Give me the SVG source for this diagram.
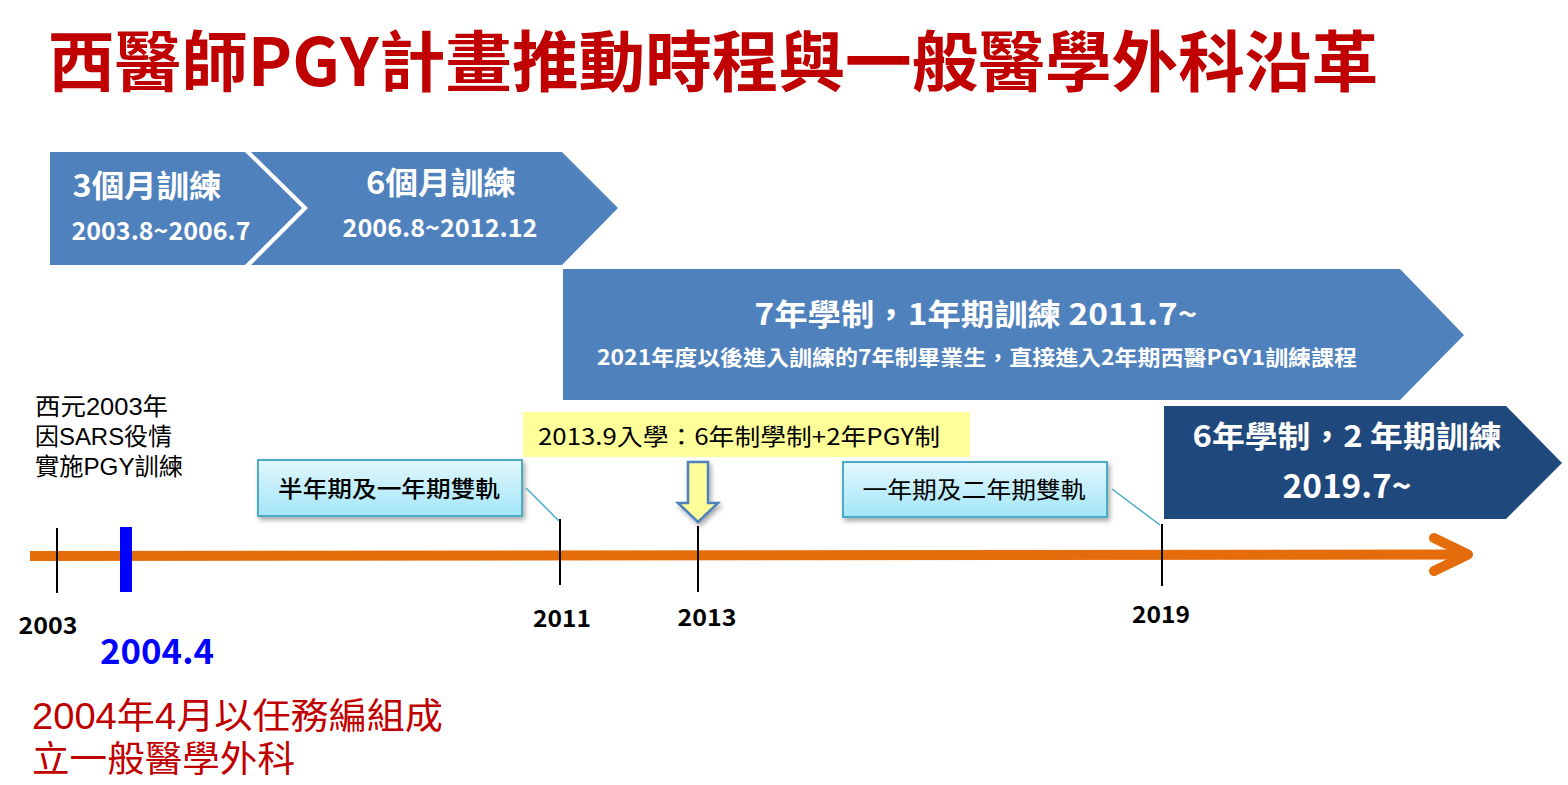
<svg xmlns="http://www.w3.org/2000/svg" width="1568" height="785" viewBox="0 0 1568 785">
<defs>
<style>
text{font-family:"Noto Sans CJK TC","Noto Sans CJK SC",sans-serif}
.ml{font-family:"Liberation Sans","Noto Sans CJK TC","Noto Sans CJK SC",sans-serif}
.w{fill:#ffffff;font-weight:700;text-anchor:middle}
.blk{fill:#000000}
.yr{fill:#000000;font-weight:700;font-size:23px;text-anchor:middle}
.tick{stroke:#000000;stroke-width:2;fill:none}
.call{stroke:#4bacc6;stroke-width:1.5;fill:none}
.cyan{fill:url(#cg);stroke:#4bacc6;stroke-width:2}
</style>
<linearGradient id="cg" x1="0" y1="0" x2="0" y2="1">
<stop offset="0" stop-color="#e2f7fc"/>
<stop offset="1" stop-color="#a3e6f8"/>
</linearGradient>
<filter id="sh" x="-10%" y="-20%" width="130%" height="150%">
<feGaussianBlur in="SourceAlpha" stdDeviation="2.5"/>
<feOffset dx="2" dy="3" result="b"/>
<feComponentTransfer><feFuncA type="linear" slope="0.35"/></feComponentTransfer>
<feMerge><feMergeNode/><feMergeNode in="SourceGraphic"/></feMerge>
</filter>
</defs>
<rect width="1568" height="785" fill="#ffffff"/>

<g id="title">
<text x="48" y="86" font-size="66" font-weight="700" fill="#c00000" textLength="1330" lengthAdjust="spacingAndGlyphs">西醫師PGY計畫推動時程與一般醫學外科沿革</text>
</g>

<g id="node-3m">
<polygon points="50,152 245,152 302,208 245,265 50,265" fill="#4f81bd"/>
<text class="w" x="147" y="197" font-size="31" textLength="149" lengthAdjust="spacingAndGlyphs">3個月訓練</text>
<text class="w" x="161" y="240" font-size="25" textLength="179" lengthAdjust="spacingAndGlyphs">2003.8~2006.7</text>
</g>

<g id="node-6m">
<polygon points="251,152 562,152 618,208 562,265 251,265 308,208" fill="#4f81bd"/>
<text class="w" x="441" y="194" font-size="31" textLength="150" lengthAdjust="spacingAndGlyphs">6個月訓練</text>
<text class="w" x="440" y="237" font-size="25" textLength="195" lengthAdjust="spacingAndGlyphs">2006.8~2012.12</text>
</g>

<g id="node-7y">
<polygon points="563,269 1400,269 1464,335 1400,400 563,400" fill="#4f81bd"/>
<text class="w" x="976" y="325" font-size="30" textLength="443" lengthAdjust="spacingAndGlyphs">7年學制，1年期訓練 2011.7~</text>
<text class="w" x="977" y="365" font-size="21" textLength="760" lengthAdjust="spacingAndGlyphs">2021年度以後進入訓練的7年制畢業生，直接進入2年期西醫PGY1訓練課程</text>
</g>

<g id="node-6y">
<polygon points="1164,406 1506,406 1562,463 1506,519 1164,519" fill="#1f497d"/>
<text class="w" x="1347" y="447" font-size="30" textLength="309" lengthAdjust="spacingAndGlyphs">6年學制，2 年期訓練</text>
<text class="w" x="1347" y="498" font-size="33" textLength="129" lengthAdjust="spacingAndGlyphs">2019.7~</text>
</g>

<g id="node-2013note">
<rect x="523" y="412" width="447" height="45" fill="#ffff99"/>
<text class="blk" x="538" y="445" font-size="23" textLength="402" lengthAdjust="spacingAndGlyphs">2013.9入學：6年制學制+2年PGY制</text>
</g>

<g id="node-downarrow">
<polygon points="688,462 708,462 708,503 718,503 698,522 678,503 688,503" fill="#ffff99" stroke="#4f81bd" stroke-width="2.5" stroke-linejoin="miter" filter="url(#sh)"/>
</g>

<g id="node-dual1">
<rect class="cyan" x="258" y="460" width="264" height="56" filter="url(#sh)"/>
<text class="blk" x="389" y="497" font-size="23" font-weight="500" text-anchor="middle" textLength="222" lengthAdjust="spacingAndGlyphs">半年期及一年期雙軌</text>
</g>

<g id="node-dual2">
<rect class="cyan" x="843" y="462" width="264" height="55" filter="url(#sh)"/>
<text class="blk" x="974" y="498" font-size="23" font-weight="400" text-anchor="middle" textLength="223" lengthAdjust="spacingAndGlyphs" fill="#222222">一年期及二年期雙軌</text>
</g>

<g id="note-sars">
<text class="blk ml" x="35" y="415" font-size="24" textLength="133" lengthAdjust="spacingAndGlyphs">西元2003年</text>
<text class="blk ml" x="35" y="445" font-size="24" textLength="137" lengthAdjust="spacingAndGlyphs">因SARS役情</text>
<text class="blk ml" x="35" y="475" font-size="24" textLength="148" lengthAdjust="spacingAndGlyphs">實施PGY訓練</text>
</g>

<g id="note-2004">
<text class="ml" x="32" y="729" font-size="36" fill="#c00000" textLength="411" lengthAdjust="spacingAndGlyphs">2004年4月以任務編組成</text>
<text class="ml" x="32" y="772" font-size="36" fill="#c00000" textLength="263" lengthAdjust="spacingAndGlyphs">立一般醫學外科</text>
</g>

<g id="connectors">
<line x1="30" y1="556" x2="1464" y2="554.5" stroke="#e46c0a" stroke-width="10"/>
<polyline points="1434,538 1468,554.5 1434,571" fill="none" stroke="#e46c0a" stroke-width="10" stroke-linecap="round" stroke-linejoin="round"/>
<line class="tick" x1="57" y1="528" x2="57" y2="593"/>
<rect x="120" y="527" width="12" height="65" fill="#0000ff"/>
<line class="tick" x1="560" y1="519" x2="560" y2="585"/>
<line class="tick" x1="698" y1="526" x2="698" y2="592"/>
<line class="tick" x1="1162" y1="524" x2="1162" y2="586"/>
<line class="call" x1="526" y1="488" x2="559" y2="521"/>
<line class="call" x1="1112" y1="489" x2="1160" y2="525"/>
</g>

<g id="labels">
<text class="yr" x="48" y="634" textLength="59" lengthAdjust="spacingAndGlyphs">2003</text>
<text class="yr" x="562" y="627" textLength="58" lengthAdjust="spacingAndGlyphs">2011</text>
<text class="yr" x="707" y="626" textLength="59" lengthAdjust="spacingAndGlyphs">2013</text>
<text class="yr" x="1161" y="623" textLength="58" lengthAdjust="spacingAndGlyphs">2019</text>
<text x="157" y="664" font-size="34" font-weight="700" fill="#0000ff" text-anchor="middle" textLength="114" lengthAdjust="spacingAndGlyphs">2004.4</text>
</g>
</svg>
